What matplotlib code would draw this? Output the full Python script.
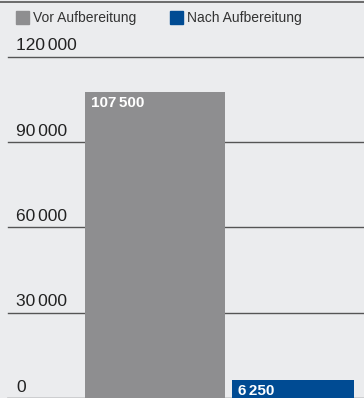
import matplotlib.pyplot as plt

# data
categories = ['Vor Aufbereitung', 'Nach Aufbereitung']
values = [107500, 6250]
value_labels = ['107\u2006500', '6\u2006250']
colors = ['#8e8e90', '#004b93']
ticks = [0, 30000, 60000, 90000, 120000]
tick_labels = ['0', '30\u2006000', '60\u2006000', '90\u2006000', '120\u2006000']

BG = '#ebecee'
plt.rcParams['font.family'] = ['Liberation Sans', 'DejaVu Sans']

fig = plt.figure(figsize=(3.64, 3.98), dpi=100)
fig.patch.set_facecolor(BG)
ax = fig.add_axes([0, 0, 1, 396 / 398])
ax.set_facecolor(BG)

xpos = [0, 1]
widths = [1.014, 0.884]
ax.set_xlim(-1.123, 1.514)
ax.set_ylim(0, 139200)

# gridlines with labels sitting on top
for t, lab in zip(ticks, tick_labels):
    if t == 0:
        ax.axhline(t, xmin=8 / 364, color='#c8c8ca', lw=1.2, zorder=1)
    else:
        ax.axhline(t, xmin=8 / 364, color='#555555', lw=1, zorder=1)
    ax.text(16 / 364, t + 1200, lab, transform=ax.get_yaxis_transform(),
            fontsize=12.5, color='#222222', ha='left', va='bottom')

bars = ax.bar(xpos, values, width=widths, color=colors, zorder=2)
for b, lab in zip(bars, value_labels):
    ax.annotate(lab, xy=(b.get_x(), b.get_height()), xytext=(4, -3),
                textcoords='offset points', ha='left', va='top',
                color='white', fontweight='bold', fontsize=11, zorder=3)

# legend
handles = [plt.Rectangle((0, 0), 1, 1, color=c) for c in colors]
leg = fig.legend(handles, categories, loc='upper left',
                 bbox_to_anchor=(16 / 364, 1 - 11 / 398),
                 ncol=2, frameon=False, fontsize=10, handlelength=0.95,
                 handleheight=1.05, handletextpad=0.3, columnspacing=2.4,
                 borderpad=0, borderaxespad=0)
for t in leg.get_texts():
    t.set_color('#333333')

for s in ['left', 'right', 'bottom']:
    ax.spines[s].set_visible(False)
ax.spines['top'].set_color('#555555')
ax.spines['top'].set_linewidth(1.2)
ax.set_xticks([])
ax.set_yticks([])

fig.savefig('out.png', dpi=100, facecolor=BG)
